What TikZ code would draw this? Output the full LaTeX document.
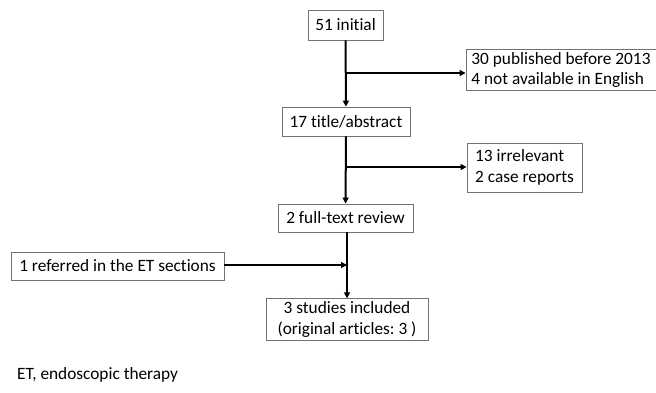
\documentclass[tikz,border=0pt]{standalone}
\usepackage{fontspec}
\setmainfont{Carlito}[Ligatures=NoCommon]
\usetikzlibrary{arrows.meta,calc,positioning}
\frenchspacing

\begin{document}
\begin{tikzpicture}[x=1pt,y=-1pt,
  box/.style={draw=black!55,line width=0.8pt,font=\fontsize{17.3}{20.5}\selectfont,
              inner xsep=5pt,inner ysep=3pt,align=#1},
  box/.default=center,
  flow/.style={line width=2pt,-{Triangle[length=6pt,width=6pt]}}]
  \useasboundingbox (0,0) rectangle (656,392);
  % main chain
  \node[box,minimum width=75pt,minimum height=30pt] (init) at (345.5,25) {51 initial};
  \node[box,minimum width=128pt,minimum height=29pt] (title) at (346,121.5) {17 title/abstract};
  \node[box,minimum width=135pt,minimum height=28pt] (full) at (345.5,218) {2 full-text review};
  \node[box,minimum width=162pt,minimum height=41pt] (incl) at (347,319.5) {3 studies included\\(original articles: 3 )};
  % exclusions
  \node[box=left,minimum width=190pt,minimum height=40pt] (excl1) at (561,70) {30 published before 2013\\4 not available in English};
  \node[box=left,minimum width=115pt,minimum height=49pt] (excl2) at (524.5,167.5) {13 irrelevant\\2 case reports};
  % additional source
  \node[box,minimum width=213pt,minimum height=28pt] (refer) at (117.5,266) {1 referred in the ET sections};
  \node[font=\fontsize{17.3}{20.5}\selectfont,anchor=west,inner sep=0pt] (note) at (17,375) {ET, endoscopic therapy};
  \coordinate (b1) at (346,73);
  \coordinate (b2) at (346,167);
  \coordinate (m3) at (347,265);
  \draw[flow] (init) -- (title);
  \draw[flow] (title) -- (full);
  \draw[flow] (full.south -| m3) -- (incl.north -| m3);
  \draw[flow] (b1) -- (b1 -| excl1.west);
  \draw[flow] (b2) -- (b2 -| excl2.west);
  \draw[flow] (refer.east |- m3) -- (m3);
\end{tikzpicture}
\end{document}
